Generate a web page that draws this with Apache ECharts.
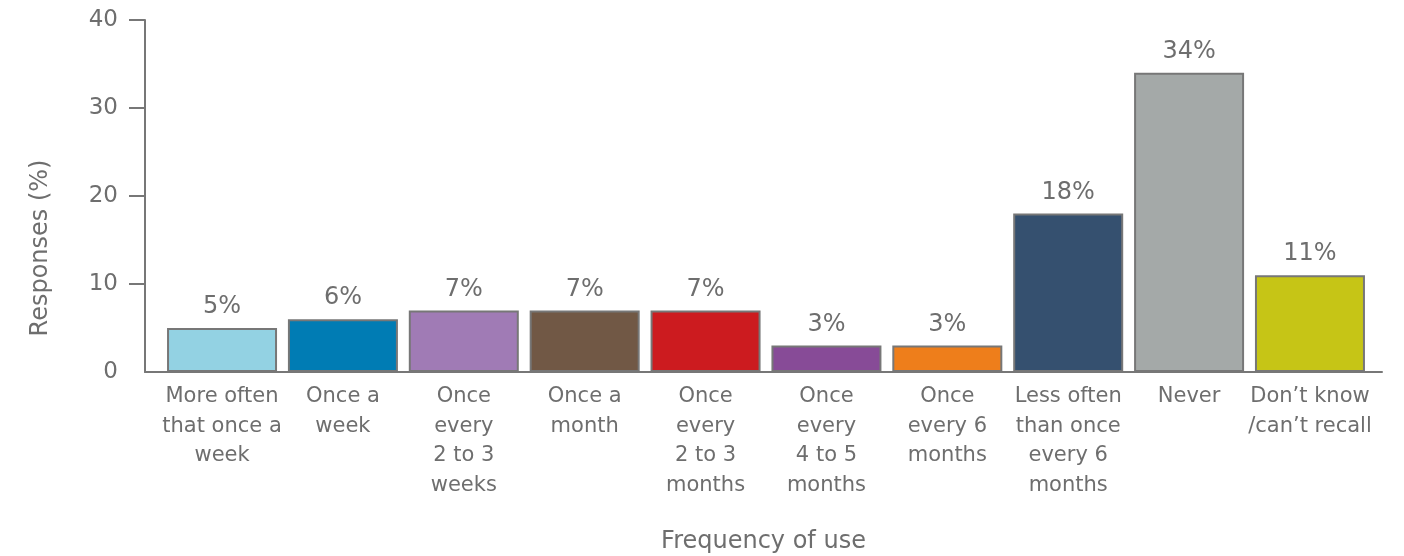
<!DOCTYPE html>
<html>
<head>
<meta charset="utf-8">
<script src="https://cdn.jsdelivr.net/npm/echarts@6/dist/echarts.min.js"></script>
<style>
  html, body { margin: 0; padding: 0; background: #fff; }
  #chart { width: 1404px; height: 556px; }
</style>
</head>
<body>
<div id="chart"></div>
<script>
// categories and values
const categories = [
  "More often\nthat once a\nweek",
  "Once a\nweek",
  "Once\nevery\n2 to 3\nweeks",
  "Once a\nmonth",
  "Once\nevery\n2 to 3\nmonths",
  "Once\nevery\n4 to 5\nmonths",
  "Once\nevery 6\nmonths",
  "Less often\nthan once\nevery 6\nmonths",
  "Never",
  "Don\u2019t know\n/can\u2019t recall"
];
const responses = [5, 6, 7, 7, 7, 3, 3, 18, 34, 11];
const barColors = [
  "#93d2e3", "#007cb4", "#a07bb5", "#715845", "#cc1b1f",
  "#874b97", "#ee7e1b", "#35506f", "#a4a9a8", "#c6c516"
];
const yTicks = { min: 0, max: 40, interval: 10 };
const tickMarks = [10, 20, 30, 40]; // no tick drawn at 0

const textGray = "#6e6e6e";
const lineGray = "#777777";
const font = "'DejaVu Sans', 'Noto Sans', sans-serif";

const chart = echarts.init(document.getElementById("chart"), null, { renderer: "canvas" });

const option = {
  backgroundColor: "#fff",
  animation: false,
  grid: [
    // outer grid: only carries the axis lines
    { left: 145, right: 22, top: 20, bottom: 184, outerBoundsMode: "none" },
    // inner grid: the bars sit a bit inside the axis lines
    { left: 161.6, right: 33.6, top: 20, bottom: 184, outerBoundsMode: "none" }
  ],
  xAxis: [
    {
      gridIndex: 0,
      type: "category",
      data: categories,
      axisLine: { show: true, lineStyle: { color: lineGray, width: 2 } },
      axisTick: { show: false },
      axisLabel: { show: false },
      name: "Frequency of use",
      nameLocation: "middle",
      nameGap: 158,
      nameTextStyle: { color: textGray, fontSize: 24, fontFamily: font }
    },
    {
      gridIndex: 1,
      type: "category",
      data: categories,
      axisLine: { show: false },
      axisTick: { show: false },
      axisLabel: {
        color: textGray,
        fontSize: 21,
        lineHeight: 29.5,
        fontFamily: font,
        margin: 10,
        interval: 0
      }
    }
  ],
  yAxis: [
    {
      gridIndex: 0,
      type: "value",
      min: yTicks.min,
      max: yTicks.max,
      interval: yTicks.interval,
      splitLine: { show: false },
      axisLine: { show: true, lineStyle: { color: lineGray, width: 2 } },
      axisTick: { show: true, length: 16, customValues: tickMarks, lineStyle: { color: lineGray, width: 2 } },
      axisLabel: { color: textGray, fontSize: 23, fontFamily: font, margin: 27 },
      name: "Responses (%)",
      nameLocation: "middle",
      nameGap: 92,
      nameTextStyle: { color: textGray, fontSize: 24, fontFamily: font, padding: [0, 104, 0, 0] }
    },
    {
      gridIndex: 1,
      type: "value",
      min: yTicks.min,
      max: yTicks.max,
      interval: yTicks.interval,
      show: false,
      splitLine: { show: false }
    }
  ],
  series: [
    {
      type: "bar",
      xAxisIndex: 1,
      yAxisIndex: 1,
      barCategoryGap: "9%",
      data: responses.map((v, i) => ({
        value: v,
        itemStyle: { color: barColors[i] }
      })),
      itemStyle: { borderColor: lineGray, borderWidth: 2 },
      label: {
        show: true,
        position: "top",
        distance: 9,
        formatter: "{c}%",
        color: textGray,
        fontSize: 24,
        fontFamily: font
      }
    }
  ]
};

chart.setOption(option);
</script>
</body>
</html>
